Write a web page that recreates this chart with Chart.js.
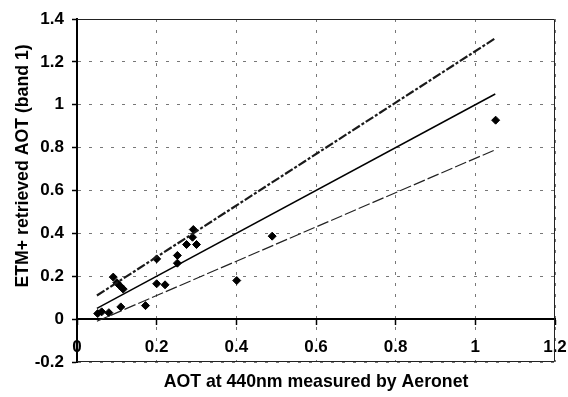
<!DOCTYPE html>
<html>
<head>
<meta charset="utf-8">
<script src="https://cdn.jsdelivr.net/npm/chart.js@4.4.1/dist/chart.umd.min.js"></script>
<style>
  html, body { margin: 0; padding: 0; background: #fff; }
  #wrap { width: 568px; height: 397px; position: relative; }
</style>
</head>
<body>
<div id="wrap"><canvas id="aotChart"></canvas></div>
<script>
// Aeronet AOT (x) vs ETM+ retrieved AOT (y)
const aeronetAot = [0.052, 0.062, 0.080, 0.091, 0.100, 0.108, 0.116, 0.110, 0.172, 0.200, 0.200,
                    0.221, 0.252, 0.252, 0.275, 0.290, 0.292, 0.300, 0.401, 0.490, 1.051];
const etmAot     = [0.026, 0.034, 0.030, 0.196, 0.170, 0.155, 0.140, 0.057, 0.063, 0.281, 0.165,
                    0.160, 0.297, 0.261, 0.348, 0.382, 0.418, 0.348, 0.180, 0.387, 0.928];

// reference lines (1:1 and the +/- envelope)
const lineX      = [0.05, 1.05];
const oneToOne   = [0.05, 1.05];
const upperLine  = [0.11, 1.31];
const lowerLine  = [-0.01, 0.79];

// axis ranges / ticks
const xMin = 0, xMax = 1.2, xStep = 0.2;
const yMin = -0.2, yMax = 1.4, yStep = 0.2;

const xTitle = 'AOT at 440nm measured by Aeronet';
const yTitle = 'ETM+ retrieved AOT (band 1)';

const FONT = '"Liberation Sans", Arial, sans-serif';

function toPoints(xs, ys) {
    return xs.map((x, i) => ({ x: x, y: ys[i] }));
}

// excel style labels: 1 not 1.0, 0 not -0.0
function fmtTick(v) {
    let r = Math.round(v * 10) / 10;
    if (r === 0) r = 0;
    return String(r);
}

// draws the black frame round the plot area
const frame = {
    id: 'frame',
    beforeDatasetsDraw(chart) {
        const a = chart.chartArea;
        const ctx = chart.ctx;
        ctx.save();
        ctx.strokeStyle = '#222';
        ctx.lineWidth = 1;
        ctx.beginPath();
        ctx.moveTo(a.left, a.top + 0.5);
        ctx.lineTo(a.right - 0.5, a.top + 0.5);
        ctx.lineTo(a.right - 0.5, a.bottom - 0.5);
        ctx.lineTo(a.left, a.bottom - 0.5);
        ctx.stroke();
        ctx.restore();
    }
};

const ctx = document.getElementById('aotChart').getContext('2d');
const chart = new Chart(ctx, {
    type: 'scatter',
    data: {
        datasets: [
            {
                label: 'upper',
                type: 'line',
                data: toPoints(lineX, upperLine),
                borderColor: '#1a1a1a',
                borderWidth: 2.2,
                borderDash: [9, 2, 3, 2],
                pointRadius: 0,
                fill: false
            },
            {
                label: '1:1',
                type: 'line',
                data: toPoints(lineX, oneToOne),
                borderColor: '#000',
                borderWidth: 1.5,
                pointRadius: 0,
                fill: false
            },
            {
                label: 'lower',
                type: 'line',
                data: toPoints(lineX, lowerLine),
                borderColor: '#222',
                borderWidth: 1.2,
                borderDash: [12, 3],
                pointRadius: 0,
                fill: false
            },
            {
                label: 'AOT',
                data: toPoints(aeronetAot, etmAot),
                pointStyle: 'rectRot',
                pointRadius: 4,
                borderWidth: 1,
                backgroundColor: '#000',
                borderColor: '#000'
            }
        ]
    },
    options: {
        responsive: true,
        maintainAspectRatio: false,
        animation: false,
        layout: { padding: { left: 0, right: 13, top: 19, bottom: 0 } },
        plugins: {
            legend: { display: false },
            tooltip: { enabled: false }
        },
        scales: {
            x: {
                type: 'linear',
                position: { y: 0 },
                min: xMin,
                max: xMax,
                ticks: {
                    stepSize: xStep,
                    padding: 13,
                    color: '#000',
                    callback: fmtTick,
                    font: { family: FONT, size: 17, weight: 'bold' }
                },
                grid: {
                    color: '#777',
                    lineWidth: 1,
                    tickLength: 5,
                    tickColor: '#000',
                    tickWidth: 1.5,
                    tickBorderDash: []
                },
                border: { color: '#000', width: 2, dash: [3, 8] },
                afterFit(scale) {
                    // label overhang is covered by layout padding
                    scale.paddingLeft = 0;
                    scale.paddingRight = 0;
                }
            },
            xb: {
                type: 'linear',
                axis: 'x',
                position: 'bottom',
                min: xMin,
                max: xMax,
                ticks: { display: false },
                grid: { display: false },
                border: { display: false },
                title: {
                    display: true,
                    text: xTitle,
                    color: '#000',
                    padding: { top: 0, bottom: 4 },
                    font: { family: FONT, size: 17.7, weight: 'bold' }
                },
                afterFit(scale) { scale.height = 35; }
            },
            y: {
                type: 'linear',
                position: 'left',
                min: yMin,
                max: yMax,
                ticks: {
                    stepSize: yStep,
                    padding: 8,
                    color: '#000',
                    callback: fmtTick,
                    font: { family: FONT, size: 17, weight: 'bold' }
                },
                grid: {
                    color: '#777',
                    lineWidth: 1,
                    tickLength: 5,
                    tickColor: '#000',
                    tickWidth: 1.5,
                    tickBorderDash: []
                },
                border: { color: '#000', width: 2, dash: [3, 8] },
                title: {
                    display: true,
                    // leading spaces nudge the rotated title upward like the original
                    text: '          ' + yTitle,
                    color: '#000',
                    padding: { top: 12, bottom: 0 },
                    font: { family: FONT, size: 17.7, weight: 'bold' }
                },
                afterFit(scale) { scale.width = 77; }
            }
        }
    },
    plugins: [frame]
});
</script>
</body>
</html>
